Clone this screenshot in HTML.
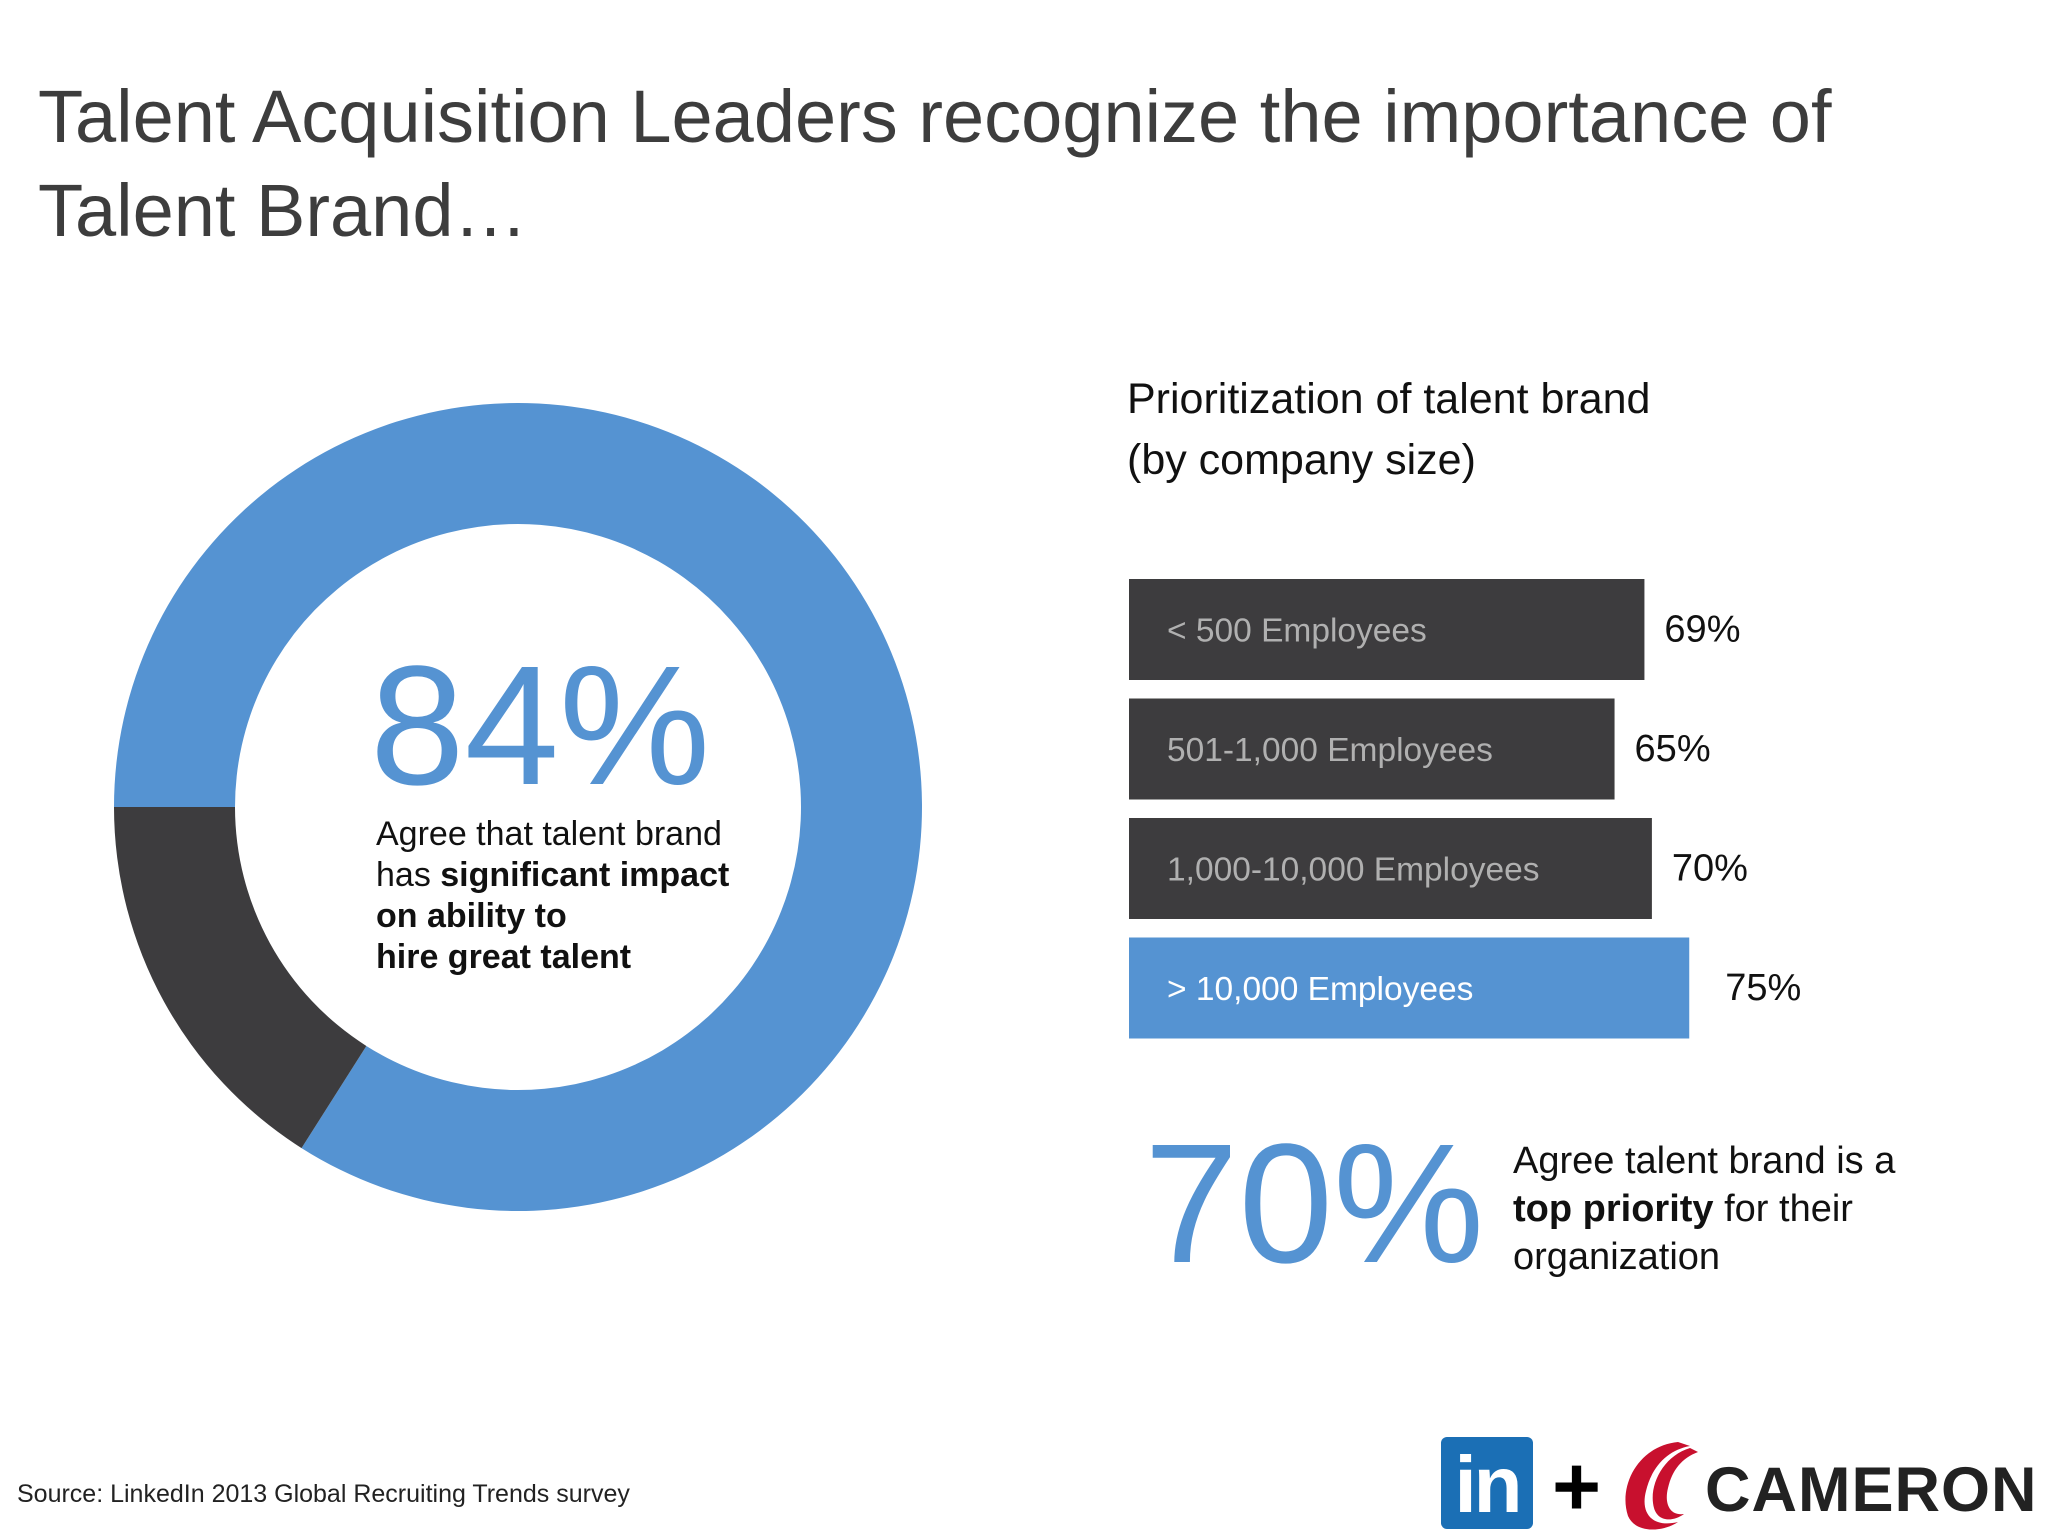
<!DOCTYPE html>
<html><head><meta charset="utf-8"><style>
body{margin:0;width:2048px;height:1536px;background:#fff;font-family:"Liberation Sans",sans-serif;overflow:hidden;position:relative}
.a{position:absolute;white-space:nowrap}
</style></head><body>
<div class="a" style="left:38px;top:70px;font-size:74px;line-height:94px;color:#3d3d3d">Talent Acquisition Leaders recognize the importance of<br>Talent Brand…</div>
<svg class="a" style="left:0;top:0" width="2048" height="1536">
<g id="donut"></g>
<g id="bars"></g>
</svg>
<div class="a" style="left:370px;top:640px;font-size:170px;line-height:172px;color:#5593d2">84%</div>
<div class="a" style="left:376px;top:814px;font-size:34px;line-height:41px;color:#111">Agree that talent brand<br>has <b>significant impact</b><br><b>on ability to</b><br><b>hire great talent</b></div>
<div class="a" style="left:1127px;top:369px;font-size:43px;line-height:61px;color:#111">Prioritization of talent brand<br>(by company size)</div>
<div class="a" style="left:1144px;top:1118px;font-size:170px;line-height:172px;color:#5593d2">70%</div>
<div class="a" style="left:1513px;top:1137px;font-size:38px;line-height:48px;color:#111">Agree talent brand is a<br><b>top priority</b> for their<br>organization</div>
<div class="a" style="left:17px;top:1480px;font-size:25px;color:#222">Source: LinkedIn 2013 Global Recruiting Trends survey</div>
<div class="a" style="left:1441px;top:1437px;width:92px;height:92px;background:#1b6fb5;border-radius:6px;color:#fff;font-weight:bold;font-size:80px;line-height:96px;text-align:center;letter-spacing:-3px">in</div>
<div class="a" style="left:1552px;top:1440px;font-size:84px;line-height:92px;color:#000;font-weight:bold">+</div>
<svg class="a" style="left:1618px;top:1436px" width="82" height="98"><path d="M60 6 C20 10 0 50 10 80 C18 98 45 96 60 86 C35 92 22 78 28 55 C34 30 50 14 72 10 Z" fill="#c8102e"/><path d="M72 12 C45 20 30 50 36 72 C40 86 55 86 66 78 C52 80 46 68 50 52 C54 34 64 22 80 16 Z" fill="#c8102e"/></svg>
<div class="a" style="left:1705px;top:1455px;font-size:63px;line-height:70px;font-weight:bold;color:#222;letter-spacing:1px">CAMERON</div>
<script>
const donutLabels=["Agree","Other"];
const donutValues=[84,16];
const barCategories=["< 500 Employees","501-1,000 Employees","1,000-10,000 Employees","> 10,000 Employees"];
const barValues=[69,65,70,75];
const barValueLabels=["69%","65%","70%","75%"];
const NS="http://www.w3.org/2000/svg";
const cx=518,cy=807,R=404,r=283;
const dg=document.getElementById('donut');
const total=donutValues.reduce((a,b)=>a+b,0);
const colors=["#5593d2","#3d3c3e"];
let start=Math.PI;
donutValues.forEach((v,i)=>{
  const ang=v/total*2*Math.PI,end=start+ang,lg=ang>Math.PI?1:0;
  const p=(rad,a)=>[cx+rad*Math.cos(a),cy+rad*Math.sin(a)];
  const [x1,y1]=p(R,start),[x2,y2]=p(R,end),[x3,y3]=p(r,end),[x4,y4]=p(r,start);
  const path=document.createElementNS(NS,'path');
  path.setAttribute('d',`M${x1} ${y1}A${R} ${R} 0 ${lg} 1 ${x2} ${y2}L${x3} ${y3}A${r} ${r} 0 ${lg} 0 ${x4} ${y4}Z`);
  path.setAttribute('fill',colors[i]);
  
  
  dg.appendChild(path);
  start=end;
});
const bg=document.getElementById('bars');
const x0=1129,scale=7.47,y0=579,step=119.5,bh=101;
barValues.forEach((v,i)=>{
  const y=y0+i*step,w=v*scale,last=i===barValues.length-1;
  const rect=document.createElementNS(NS,'rect');
  rect.setAttribute('x',x0);rect.setAttribute('y',y);rect.setAttribute('width',w);rect.setAttribute('height',bh);
  rect.setAttribute('fill',last?"#5593d2":"#3d3c3e");
  
  
  bg.appendChild(rect);
  const t=document.createElementNS(NS,'text');
  t.setAttribute('x',x0+38);t.setAttribute('y',y+bh/2+12);
  t.setAttribute('font-size','33.5');t.setAttribute('fill',last?"#fff":"#b0b0b0");
  t.textContent=barCategories[i];
  
  
  bg.appendChild(t);
  const vt=document.createElementNS(NS,'text');
  vt.setAttribute('x',x0+w+(last?36:20));vt.setAttribute('y',y+bh/2+12);
  vt.setAttribute('font-size','38');vt.setAttribute('fill','#111');
  vt.textContent=barValueLabels[i];
  
  
  bg.appendChild(vt);
});
</script>
</body></html>
